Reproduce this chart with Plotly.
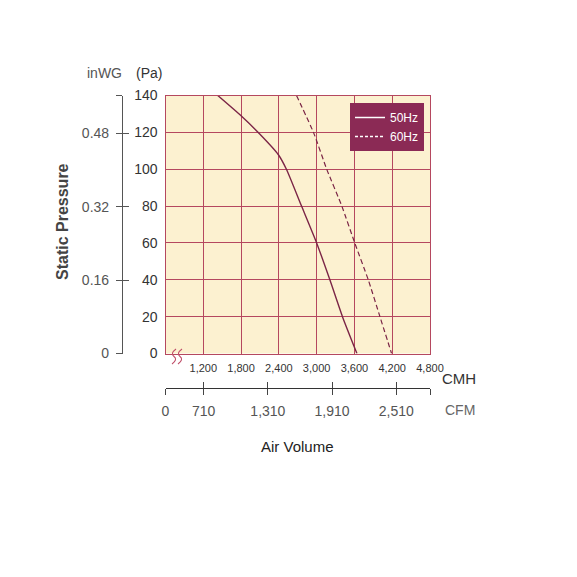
import plotly.graph_objects as go

# ---- data ----
cmh_50 = [1430, 1800, 2100, 2390, 2520, 2760, 3000, 3210, 3410, 3640]
pa_50 = [140, 129, 119, 108, 100, 80, 60, 40, 20, 0]
cmh_60 = [2680, 2950, 3160, 3400, 3605, 3820, 4005, 4190]
pa_60 = [140, 120, 100, 80, 60, 40, 20, 0]

cmh_ticks = [1200, 1800, 2400, 3000, 3600, 4200, 4800]
cmh_labels = ["1,200", "1,800", "2,400", "3,000", "3,600", "4,200", "4,800"]
cfm_ticks = [710, 1310, 1910, 2510]
cfm_labels = ["710", "1,310", "1,910", "2,510"]
inwg_ticks = [0, 0.16, 0.32, 0.48]
inwg_labels = ["0", "0.16", "0.32", "0.48"]

CMH_MIN, CMH_MAX = 600, 4800
PA_MAX = 140
CMH_PER_CFM = 1.699
PA_PER_INWG = 249.089

W = H = 577
GRID = "#b5485f"
CURVE = "#7b2546"
NARROW = "Liberation Sans Narrow, Arial Narrow, sans-serif"
SANS = "Liberation Sans, Arial, Helvetica, sans-serif"

def px(x):
    return x / W

def py(y):
    return 1 - y / H

xdom = [px(165.5), px(430)]
ydom = [py(353.5), py(95.5)]

fig = go.Figure()

fig.add_trace(go.Scatter(x=cmh_50, y=pa_50, mode="lines", name="50Hz",
                         line=dict(color=CURVE, width=1.4, shape="spline", smoothing=0.6),
                         showlegend=False, hoverinfo="skip"))
fig.add_trace(go.Scatter(x=cmh_60, y=pa_60, mode="lines", name="60Hz",
                         line=dict(color=CURVE, width=1.2, dash="5px,3px", shape="spline", smoothing=0.5),
                         showlegend=False, hoverinfo="skip"))
# legend entries (white samples on the dark legend box)
fig.add_trace(go.Scatter(x=[None], y=[None], mode="lines", name="50Hz",
                         line=dict(color="white", width=1.5)))
fig.add_trace(go.Scatter(x=[None], y=[None], mode="lines", name="60Hz",
                         line=dict(color="white", width=1.5, dash="3px,2px")))

# helper traces so the secondary axes are drawn
fig.add_trace(go.Scatter(x=cmh_50, y=pa_50, xaxis="x2", yaxis="y2", mode="none",
                         showlegend=False, hoverinfo="skip"))
fig.add_trace(go.Scatter(x=cmh_50, y=pa_50, xaxis="x3", yaxis="y3", mode="none",
                         showlegend=False, hoverinfo="skip"))

cfm_vals = [CMH_MIN] + [c * CMH_PER_CFM for c in cfm_ticks] + [CMH_MAX]
cfm_text = ["0"] + cfm_labels + [""]
inwg_max = PA_MAX / PA_PER_INWG
inwg_vals = inwg_ticks + [inwg_max]
inwg_text = inwg_labels + [""]

fig.update_layout(
    width=W, height=H, autosize=False,
    margin=dict(l=0, r=0, t=0, b=0, autoexpand=False),
    paper_bgcolor="white",
    plot_bgcolor="#fcf1d0",
    font=dict(family=SANS, color="#333333"),
    xaxis=dict(domain=xdom, range=[CMH_MIN, CMH_MAX], tickvals=cmh_ticks, ticktext=cmh_labels,
               showgrid=True, gridcolor=GRID, gridwidth=1.3, zeroline=False,
               showline=True, linecolor=GRID, linewidth=1.3, mirror=True, automargin=False,
               ticks="", tickfont=dict(family=NARROW, size=11, color="#333333"),
               ticklabelstandoff=4),
    yaxis=dict(domain=ydom, range=[0, PA_MAX], dtick=20,
               showgrid=True, gridcolor=GRID, gridwidth=1.3, zeroline=False,
               showline=True, linecolor=GRID, linewidth=1.3, mirror=True, automargin=False,
               ticks="", tickfont=dict(family=SANS, size=14, color="#333333"),
               ticklabelstandoff=4),
    xaxis2=dict(overlaying="x", anchor="free", position=py(388), side="bottom",
                range=[CMH_MIN, CMH_MAX], tickvals=cfm_vals, ticktext=cfm_text, automargin=False,
                showgrid=False, zeroline=False, showline=True, linecolor="#333333", linewidth=1.2,
                ticks="outside", ticklen=6, tickcolor="#444444", tickwidth=1,
                tickfont=dict(family=NARROW, size=14, color="#555555"), ticklabelstandoff=4),
    xaxis3=dict(overlaying="x", anchor="free", position=py(388), side="bottom",
                range=[CMH_MIN, CMH_MAX], tickvals=cfm_vals, automargin=False,
                showgrid=False, zeroline=False, showline=False,
                ticks="inside", ticklen=6, tickcolor="#444444", tickwidth=1,
                showticklabels=False),
    yaxis2=dict(overlaying="y", anchor="free", position=px(122), side="left",
                range=[0, inwg_max], tickvals=inwg_vals, ticktext=inwg_text, automargin=False,
                showgrid=False, zeroline=False, showline=True, linecolor="#555555", linewidth=1.2,
                ticks="outside", ticklen=6, tickcolor="#555555", tickwidth=1.2,
                tickfont=dict(family=SANS, size=14, color="#555555"), ticklabelstandoff=4),
    yaxis3=dict(overlaying="y", anchor="free", position=px(122), side="left",
                range=[0, inwg_max], tickvals=inwg_vals, automargin=False,
                showgrid=False, zeroline=False, showline=False,
                ticks="inside", ticklen=6, tickcolor="#555555", tickwidth=1.2,
                showticklabels=False),
    legend=dict(x=px(424), xanchor="right", y=py(103), yanchor="top",
                bgcolor="#8b2a55", borderwidth=0,
                font=dict(family=NARROW, size=12, color="white"),
                itemwidth=30, tracegroupgap=0),
)

ann = [
    dict(text="inWG", x=px(104), y=py(73), font=dict(size=14, color="#555555")),
    dict(text="(Pa)", x=px(149), y=py(73), font=dict(size=14, color="#333333")),
    dict(text="CMH", x=px(459), y=py(378), font=dict(size=15, color="#333333")),
    dict(text="CFM", x=px(460), y=py(410), font=dict(size=14, color="#666666")),
    dict(text="Air Volume", x=px(297), y=py(446), font=dict(size=15, color="#222222")),
    dict(text="<b>Static Pressure</b>", x=px(63), y=py(222), textangle=-90,
         font=dict(size=16, color="#444444")),
]
for a in ann:
    fig.add_annotation(xref="paper", yref="paper", showarrow=False,
                       xanchor="center", yanchor="middle", **a)

# broken-axis squiggle (two small S strokes below the axis corner)
def s_path(x0, y0, h):
    pts = [(x0 + 4, y0), (x0 - 2, y0 + h * 0.3), (x0 + 2, y0 + h * 0.5),
           (x0 + 6, y0 + h * 0.7), (x0, y0 + h)]
    (a, b), (c, d), (e, f), (g, k), (m, n) = pts
    return (f"M {px(a)},{py(b)} Q {px(c)},{py(d)} {px(e)},{py(f)} "
            f"Q {px(g)},{py(k)} {px(m)},{py(n)}")

for x0 in (172, 178):
    fig.add_shape(type="path", xref="paper", yref="paper", path=s_path(x0, 349, 15),
                  line=dict(color="#c0506a", width=1.1))

post = (
    "document.documentElement.style.overflow='hidden';"
    "document.body.style.margin='0';"
)
fig.write_html("out.html", config={"displayModeBar": False}, post_script=post)
